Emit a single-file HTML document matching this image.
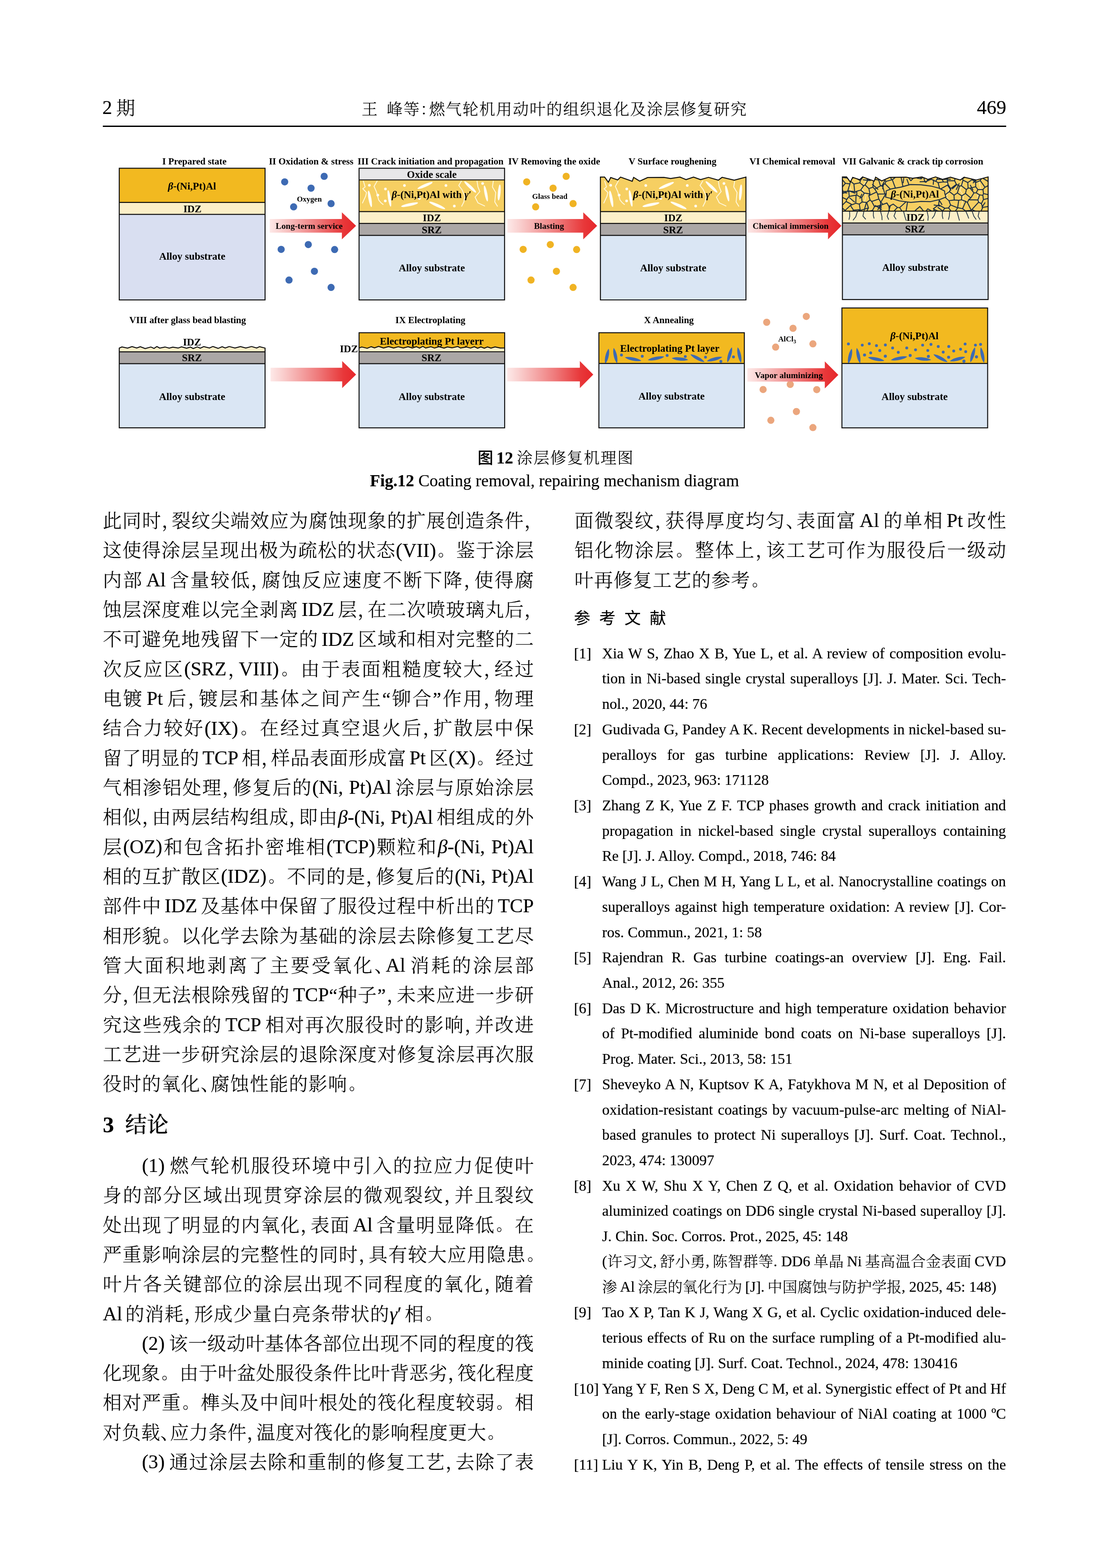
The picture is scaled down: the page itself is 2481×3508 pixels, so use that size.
<!DOCTYPE html>
<html lang="zh-CN"><head><meta charset="utf-8"><title>涂层修复机理图</title>
<style>
html,body{margin:0;padding:0;background:#fff}
#page{will-change:transform;position:relative;width:2481px;height:3508px;overflow:hidden;background:#fff;color:#000;
 font-family:"Liberation Serif","Noto Serif CJK SC",serif;font-weight:300;-webkit-text-stroke:.2px #000}
b{font-weight:700}
#page div{position:absolute;white-space:nowrap;margin:0;padding:0}
.b{font-size:42.3px;line-height:60px;height:60px}
.b .e{font-size:43.75px;line-height:0;position:relative;top:-.8px}
.g{display:inline-block;width:.16em}
.g2{display:inline-block;width:.2em}
.g3{display:inline-block;width:.2em}
.rc{font-size:32.3px}
.rc .e{font-size:33.33px;line-height:0;position:relative;top:-1px}
.r{font-size:33.33px;line-height:46px;height:46px}
.j{text-align:justify;text-align-last:justify}
.n{text-align:left}
.h{font-feature-settings:"halt" 1}
.p{font-size:.82em;margin-right:.22em;position:relative;top:-.06em;left:.09em}
.pe{font-size:.82em;position:relative;top:-.06em;left:.1em}
.hd{font-size:43.75px;line-height:60px;height:60px}
.ht{font-size:37.5px;line-height:60px;height:60px;text-align:center}
.cap{font-size:37.5px;line-height:50px;height:50px;text-align:center;left:0;width:2481px}
.hei{font-family:"Liberation Sans","Noto Sans CJK SC",sans-serif;font-weight:500;font-size:35px}
.c9{font-size:35.6px;letter-spacing:1.9px}
.sec{font-size:50px;line-height:60px;height:60px}
.b.n{letter-spacing:1.45px}
.b.n .e{letter-spacing:0}
.refh{font-weight:400;font-family:"Liberation Sans","Noto Sans CJK SC",sans-serif;font-size:36.6px;line-height:50px;height:50px;letter-spacing:19.9px}
#rule{left:230px;top:280.7px;width:2021px;height:3px;background:#000}
</style></head><body><div id="page">
<div class="hd" style="left:229px;top:210.23px">2<span style="margin-left:9px;font-size:42.3px;position:relative;top:1.6px">期</span></div>
<div class="ht" style="left:0;width:2481px;top:215.14px"><span class="c9">王<span style="display:inline-block;width:18.75px"></span>峰等<span class="h">：</span>燃气轮机用动叶的组织退化及涂层修复研究</span></div>
<div class="hd" style="left:0;width:2251px;top:210.23px;text-align:right">469</div>
<div id="rule"></div>
<svg id="fig" width="2481" height="800" viewBox="0 300 2481 800" style="position:absolute;left:0;top:300px" font-family="'Liberation Serif',serif" font-weight="bold" fill="#000">
<defs><linearGradient id="ga" x1="0" y1="0" x2="1" y2="0"><stop offset="0" stop-color="#FDE9E8"/><stop offset="0.12" stop-color="#FAD3D2"/><stop offset="0.55" stop-color="#EF7B7C"/><stop offset="0.85" stop-color="#E8383A"/><stop offset="1" stop-color="#E6262A"/></linearGradient></defs>
<rect x="266.8" y="376.4" width="326.2" height="76.4" fill="#F2B920"/>
<rect x="266.8" y="452.8" width="326.2" height="26.9" fill="#FCEFC8"/>
<rect x="266.8" y="479.7" width="326.2" height="191.3" fill="#D9DFF1"/>
<path d="M266.8 452.8H593" stroke="#0d0d0d" stroke-width="2.2" fill="none"/>
<path d="M266.8 479.7H593" stroke="#0d0d0d" stroke-width="2.2" fill="none"/>
<rect x="266.8" y="376.4" width="326.2" height="294.6" fill="none" stroke="#0d0d0d" stroke-width="2.2"/>
<text x="435" y="368.3" font-size="21" text-anchor="middle">I Prepared state</text>
<text x="429.5" y="423.8" font-size="22.9" text-anchor="middle"><tspan font-style="italic">β</tspan>-(Ni,Pt)Al</text>
<text x="430.5" y="475" font-size="22.9" text-anchor="middle">IDZ</text>
<text x="430" y="581.4" font-size="22.9" text-anchor="middle">Alloy substrate</text>
<circle cx="636.9" cy="406.9" r="8" fill="#3D6AB3"/><circle cx="725.2" cy="394.5" r="8" fill="#3D6AB3"/><circle cx="695.9" cy="421" r="8" fill="#3D6AB3"/><circle cx="656.9" cy="462.8" r="8" fill="#3D6AB3"/><circle cx="740.7" cy="455.5" r="8" fill="#3D6AB3"/><circle cx="629" cy="557.9" r="8" fill="#3D6AB3"/><circle cx="689.7" cy="547.2" r="8" fill="#3D6AB3"/><circle cx="748.6" cy="558.3" r="8" fill="#3D6AB3"/><circle cx="703.4" cy="606.9" r="8" fill="#3D6AB3"/><circle cx="646.6" cy="626.6" r="8" fill="#3D6AB3"/><circle cx="740.7" cy="643.1" r="8" fill="#3D6AB3"/>
<text x="696" y="368.3" font-size="21" text-anchor="middle">II Oxidation &amp; stress</text>
<text x="692" y="451" font-size="17" text-anchor="middle">Oxygen</text>
<path d="M603.4 490.1H764.8V475.1L796.6 505.3L764.8 535.5V520.5H603.4Z" fill="url(#ga)"/>
<text x="691.7" y="511.7" font-size="19.2" text-anchor="middle">Long-term service</text>
<rect x="803.3" y="376.4" width="325.5" height="26.1" fill="#E7E7E9"/>
<rect x="803.3" y="402.5" width="325.5" height="70.8" fill="#F6CF62"/>
<path d="M812.7 404.5L816.9 418.2L811.7 422.3L820 430.7L817.9 439.1L810.6 454.8" fill="none" stroke="#FFF8DC" stroke-width="2" stroke-linejoin="miter"/><path d="M844.1 404.5L836.8 417.1L842 428.6L847.2 447.5L852.5 453.8L857.7 457.9" fill="none" stroke="#FFF8DC" stroke-width="2" stroke-linejoin="miter"/><path d="M1032.5 404.5L1026.3 415L1033.6 424.4L1039.9 439.1L1037.8 451.7L1032.5 462.1" fill="none" stroke="#FFF8DC" stroke-width="2" stroke-linejoin="miter"/><path d="M1067.1 404.5L1069.2 418.2L1073.4 428.6L1062.9 441.2L1069.2 453.8L1084.9 461.1" fill="none" stroke="#FFF8DC" stroke-width="2" stroke-linejoin="miter"/><path d="M1103.7 404.5L1101.6 418.2L1109 430.7L1106.9 451.7L1113.2 462.1" fill="none" stroke="#FFF8DC" stroke-width="2" stroke-linejoin="miter"/><ellipse cx="827.6" cy="444.9" rx="18.6" ry="3.3" transform="rotate(79.6 827.6 444.9)" fill="#FFFDF4"/><ellipse cx="871.1" cy="443.8" rx="18.6" ry="3.1" transform="rotate(80.9 871.1 443.8)" fill="#FFFDF4"/><ellipse cx="950.9" cy="415" rx="18.3" ry="3.3" transform="rotate(-23.6 950.9 415)" fill="#FFFDF4"/><ellipse cx="916.3" cy="457.9" rx="19.3" ry="3.3" transform="rotate(-12.5 916.3 457.9)" fill="#FFFDF4"/><ellipse cx="978.1" cy="459.5" rx="19.5" ry="3.3" transform="rotate(23.8 978.1 459.5)" fill="#FFFDF4"/><ellipse cx="1051.9" cy="418.2" rx="18.1" ry="3.3" transform="rotate(43.8 1051.9 418.2)" fill="#FFFDF4"/><ellipse cx="1087" cy="432.8" rx="18.1" ry="3.1" transform="rotate(78.7 1087 432.8)" fill="#FFFDF4"/><ellipse cx="1116.8" cy="430.7" rx="17.9" ry="3.1" transform="rotate(95 1116.8 430.7)" fill="#FFFDF4"/><circle cx="826.3" cy="414.4" r="3" fill="#FFFDF4"/><circle cx="862.3" cy="422.8" r="3" fill="#FFFDF4"/><circle cx="861.9" cy="449.6" r="3" fill="#FFFDF4"/><circle cx="904.8" cy="415" r="3" fill="#FFFDF4"/><circle cx="997.6" cy="415" r="3" fill="#FFFDF4"/><circle cx="1016.4" cy="461.1" r="3" fill="#FFFDF4"/><circle cx="1079.7" cy="410.4" r="3" fill="#FFFDF4"/><circle cx="845.2" cy="436.6" r="3" fill="#FFFDF4"/><circle cx="938.3" cy="443.7" r="3" fill="#FFFDF4"/>
<rect x="803.3" y="473.3" width="325.5" height="26.5" fill="#FCEFC8"/>
<rect x="803.3" y="499.8" width="325.5" height="26.8" fill="#ABA7A6"/>
<rect x="803.3" y="526.6" width="325.5" height="144.4" fill="#DAE6F4"/>
<path d="M803.3 402.5H1128.8" stroke="#0d0d0d" stroke-width="2.2" fill="none"/>
<path d="M803.3 473.3H1128.8" stroke="#0d0d0d" stroke-width="2.2" fill="none"/>
<path d="M803.3 499.8H1128.8" stroke="#0d0d0d" stroke-width="2.2" fill="none"/>
<path d="M803.3 526.6H1128.8" stroke="#0d0d0d" stroke-width="2.2" fill="none"/>
<rect x="803.3" y="376.4" width="325.5" height="294.6" fill="none" stroke="#0d0d0d" stroke-width="2.2"/>
<text x="963.3" y="368.3" font-size="21" text-anchor="middle">III Crack initiation and propagation</text>
<text x="966" y="398" font-size="22.9" text-anchor="middle">Oxide scale</text>
<text x="965.5" y="443.4" font-size="22.9" text-anchor="middle"><tspan font-style="italic">β</tspan>-(Ni,Pt)Al with <tspan font-style="italic">γ</tspan>′</text>
<text x="966.2" y="495.2" font-size="22.9" text-anchor="middle">IDZ</text>
<text x="965.7" y="521.7" font-size="22.9" text-anchor="middle">SRZ</text>
<text x="966" y="607.2" font-size="22.9" text-anchor="middle">Alloy substrate</text>
<circle cx="1178.3" cy="406.9" r="8" fill="#F0B323"/><circle cx="1266.6" cy="394.5" r="8" fill="#F0B323"/><circle cx="1237.3" cy="421" r="8" fill="#F0B323"/><circle cx="1198.3" cy="462.8" r="8" fill="#F0B323"/><circle cx="1282.1" cy="455.5" r="8" fill="#F0B323"/><circle cx="1170.4" cy="557.9" r="8" fill="#F0B323"/><circle cx="1231.1" cy="547.2" r="8" fill="#F0B323"/><circle cx="1290" cy="558.3" r="8" fill="#F0B323"/><circle cx="1244.8" cy="606.9" r="8" fill="#F0B323"/><circle cx="1188" cy="626.6" r="8" fill="#F0B323"/><circle cx="1282.1" cy="643.1" r="8" fill="#F0B323"/>
<text x="1239.7" y="368.3" font-size="21" text-anchor="middle">IV Removing the oxide</text>
<text x="1230" y="444.5" font-size="17" text-anchor="middle">Glass bead</text>
<path d="M1135.2 490.1H1304.8V475.1L1335.9 505.3L1304.8 535.5V520.5H1135.2Z" fill="url(#ga)"/>
<text x="1228.3" y="512.4" font-size="19.2" text-anchor="middle">Blasting</text>
<path d="M1343.2 396.2L1352.6 396.2L1361 407.7L1366.2 397.2L1381.9 402.5L1388.2 396.2L1414.4 405.6L1417.5 396.8L1431.1 405.2L1448.9 397.2L1485.6 396.8L1500.2 399.3L1521.1 396.2L1534.8 401.8L1551.5 396.2L1567.2 401.8L1585 396.8L1607 403.1L1615.4 396.8L1642.6 403.1L1668.8 396.2L1668.8 473.3L1343.2 473.3Z" fill="#F6CF62" stroke="none" stroke-width="0" stroke-linejoin="miter"/>
<path d="M1352.6 404.5L1356.8 418.2L1351.6 422.3L1359.9 430.7L1357.8 439.1L1350.5 454.8" fill="none" stroke="#FFF8DC" stroke-width="2" stroke-linejoin="miter"/><path d="M1384 403.5L1376.7 417.1L1381.9 428.6L1387.1 447.5L1392.4 453.8L1397.6 457.9" fill="none" stroke="#FFF8DC" stroke-width="2" stroke-linejoin="miter"/><path d="M1572.4 404.5L1566.2 415L1573.5 424.4L1579.8 439.1L1577.7 451.7L1572.4 462.1" fill="none" stroke="#FFF8DC" stroke-width="2" stroke-linejoin="miter"/><path d="M1607 405.1L1609.1 418.2L1613.3 428.6L1602.8 441.2L1609.1 453.8L1624.8 461.1" fill="none" stroke="#FFF8DC" stroke-width="2" stroke-linejoin="miter"/><path d="M1643.6 404.8L1641.5 418.2L1648.9 430.7L1646.8 451.7L1653.1 462.1" fill="none" stroke="#FFF8DC" stroke-width="2" stroke-linejoin="miter"/><ellipse cx="1367.5" cy="444.9" rx="18.6" ry="3.3" transform="rotate(79.6 1367.5 444.9)" fill="#FFFDF4"/><ellipse cx="1411" cy="443.8" rx="18.6" ry="3.1" transform="rotate(80.9 1411 443.8)" fill="#FFFDF4"/><ellipse cx="1490.8" cy="415" rx="18.3" ry="3.3" transform="rotate(-23.6 1490.8 415)" fill="#FFFDF4"/><ellipse cx="1456.2" cy="457.9" rx="19.3" ry="3.3" transform="rotate(-12.5 1456.2 457.9)" fill="#FFFDF4"/><ellipse cx="1518" cy="459.5" rx="19.5" ry="3.3" transform="rotate(23.8 1518 459.5)" fill="#FFFDF4"/><ellipse cx="1591.8" cy="418.2" rx="18.1" ry="3.3" transform="rotate(43.8 1591.8 418.2)" fill="#FFFDF4"/><ellipse cx="1626.9" cy="432.8" rx="18.1" ry="3.1" transform="rotate(78.7 1626.9 432.8)" fill="#FFFDF4"/><ellipse cx="1656.7" cy="430.7" rx="17.9" ry="3.1" transform="rotate(95 1656.7 430.7)" fill="#FFFDF4"/><circle cx="1366.2" cy="414.4" r="3" fill="#FFFDF4"/><circle cx="1402.2" cy="422.8" r="3" fill="#FFFDF4"/><circle cx="1401.8" cy="449.6" r="3" fill="#FFFDF4"/><circle cx="1444.7" cy="415" r="3" fill="#FFFDF4"/><circle cx="1537.5" cy="415" r="3" fill="#FFFDF4"/><circle cx="1556.3" cy="461.1" r="3" fill="#FFFDF4"/><circle cx="1619.6" cy="410.4" r="3" fill="#FFFDF4"/><circle cx="1385.1" cy="436.6" r="3" fill="#FFFDF4"/><circle cx="1478.2" cy="443.7" r="3" fill="#FFFDF4"/>
<rect x="1343.2" y="473.3" width="325.6" height="26.5" fill="#FCEFC8"/>
<rect x="1343.2" y="499.8" width="325.6" height="26.8" fill="#ABA7A6"/>
<rect x="1343.2" y="526.6" width="325.6" height="144.4" fill="#DAE6F4"/>
<path d="M1343.2 473.3H1668.8" stroke="#0d0d0d" stroke-width="2.2" fill="none"/>
<path d="M1343.2 499.8H1668.8" stroke="#0d0d0d" stroke-width="2.2" fill="none"/>
<path d="M1343.2 526.6H1668.8" stroke="#0d0d0d" stroke-width="2.2" fill="none"/>
<path d="M1343.2 671L1343.2 396.2L1352.6 396.2L1361 407.7L1366.2 397.2L1381.9 402.5L1388.2 396.2L1414.4 405.6L1417.5 396.8L1431.1 405.2L1448.9 397.2L1485.6 396.8L1500.2 399.3L1521.1 396.2L1534.8 401.8L1551.5 396.2L1567.2 401.8L1585 396.8L1607 403.1L1615.4 396.8L1642.6 403.1L1668.8 396.2L1668.8 671Z" fill="none" stroke="#0d0d0d" stroke-width="2.2" stroke-linejoin="miter"/>
<text x="1504.5" y="368.3" font-size="21" text-anchor="middle">V Surface roughening</text>
<text x="1505.5" y="443.4" font-size="22.9" text-anchor="middle"><tspan font-style="italic">β</tspan>-(Ni,Pt)Al with <tspan font-style="italic">γ</tspan>′</text>
<text x="1506.2" y="495.2" font-size="22.9" text-anchor="middle">IDZ</text>
<text x="1505.7" y="521.7" font-size="22.9" text-anchor="middle">SRZ</text>
<text x="1506" y="607.2" font-size="22.9" text-anchor="middle">Alloy substrate</text>
<text x="1772.6" y="368.3" font-size="21" text-anchor="middle">VI Chemical removal</text>
<path d="M1671.7 490.1H1852.4V475.1L1882.4 505.3L1852.4 535.5V520.5H1671.7Z" fill="url(#ga)"/>
<text x="1768.8" y="512.4" font-size="19.2" text-anchor="middle">Chemical immersion</text>
<path d="M1884.6 395.8L1894 395.8L1902.4 407.3L1907.6 396.8L1923.3 402.1L1929.6 395.8L1955.8 405.2L1958.9 396.4L1972.5 404.8L1990.3 396.8L2027 396.4L2041.6 398.9L2062.5 395.8L2076.2 401.4L2092.9 395.8L2108.6 401.4L2126.4 396.4L2148.4 402.7L2156.8 396.4L2184 402.7L2210.6 395.8L2210.6 472.3L1884.6 472.3Z" fill="#F6CF62" stroke="none" stroke-width="0" stroke-linejoin="miter"/>
<clipPath id="cp7"><path d="M1884.6 395.8L1894 395.8L1902.4 407.3L1907.6 396.8L1923.3 402.1L1929.6 395.8L1955.8 405.2L1958.9 396.4L1972.5 404.8L1990.3 396.8L2027 396.4L2041.6 398.9L2062.5 395.8L2076.2 401.4L2092.9 395.8L2108.6 401.4L2126.4 396.4L2148.4 402.7L2156.8 396.4L2184 402.7L2210.6 395.8L2210.6 472.3L1884.6 472.3Z"/></clipPath><g clip-path="url(#cp7)"><path d="M1898.6 412l6 14l-7 12l8 16M1936.6 405l-8 18l9 14l-5 20M2116.6 408l7 15l-6 16l9 18M2154.6 410l-7 16l8 12l-4 22M2189.6 404l5 20l-8 14l7 20" fill="none" stroke="#FFF6D8" stroke-width="1.4" opacity="0.8"/><path d="M2221.8 398.3L2214.1 408M2214.1 408L2211.9 412.9M2218.6 434L2212 414.7M2212 414.7L2211.9 412.9M2260.7 463.1L2214.5 460.4M2260.7 463.1L2215.6 447.3M2215.6 447.3L2212.3 461.6M2214.5 460.4L2212.3 461.6M2217.5 477.2L2214.5 460.4M2218.6 434L2216.4 437M2215.6 447.3L2213.1 443.3M2216.4 437L2213.1 443.3M1954.4 512.4L1941.3 479.2M1941.3 479.2L1922 483.8M1924.3 492.4L1922 483.8M1890 712.3L1880.5 480.3M1880.5 480.3L1862.6 473.3M1946 317.3L1951.1 392.1M1946 317.3L1933.8 389.8M1933.8 389.8L1951.1 392.1M1952.8 418.7L1943.8 422M1952.8 418.7L1954.6 401.8M1943.8 422L1935.3 413.7M1935.3 413.7L1941.7 402.9M1941.7 402.9L1954.6 401.8M1924.7 404.2L1933.8 391.7M1924.7 404.2L1923.6 409M1932 415.7L1923.6 409M1932 415.7L1935.3 413.7M1941.7 402.9L1933.8 391.7M1954.4 512.4L1959.2 479.9M1938.5 473.9L1941.3 479.2M1938.5 473.9L1952 470.5M1952 470.5L1959.2 479.9M1933.8 389.8L1932.5 390.6M1932.5 390.6L1933.8 391.7M1954.6 401.8L1957.9 401.3M1951.1 392.1L1951.7 392.3M1957.9 401.3L1951.7 392.3M2079.7 500.1L2086.3 473.1M2086.3 473.1L2091.3 469.2M2091.3 469.2L2100.1 472.7M2100.1 472.7L2097.2 610.7M2062.8 363.5L2053.2 378.9M2062.8 363.5L2071.1 387.7M2060.7 400.1L2053.2 378.9M2060.7 400.1L2065.9 395.5M2065.9 395.5L2071.1 387.7M2013.7 260.2L2001.2 385.5M2007.9 392.6L2001.2 385.5M2007.9 392.6L2010 391.7M2021.6 348.2L2010 391.7M2057.9 462.2L2069.1 475.9M2069.1 475.9L2075.4 467.3M2088.1 467.2L2091.3 469.2M2086.3 473.1L2075.4 467.3M2079.7 500.1L2068.6 475.3M2068.6 475.3L2069.1 475.9M2200.1 446.5L2213.1 443.3M2200.1 446.5L2198.8 437M2216.4 437L2200.2 433M2200.2 433L2198.8 437M1909.4 470.2L1904.7 476M1909.4 470.2L1902.5 459.6M1905.1 457.3L1890.7 470.7M1905.1 457.3L1902.5 459.6M1904.7 476L1898.4 478M1898.4 478L1889.3 477.1M1889.3 477.1L1890.7 470.7M1924.3 492.4L1904.7 476M1922 483.8L1921.8 469.1M1921.8 469.1L1909.4 470.2M1890 712.3L1898.4 478M1880.5 480.3L1889.3 477.1M1881.2 463.3L1862.6 473.3M1881.2 463.3L1890.7 470.7M1881.2 463.3L1882.2 461.1M1905.1 457.3L1892.9 450.8M1882.2 461.1L1892.9 450.8M1924.6 470.7L1922.4 456.7M1924.6 470.7L1942.8 465.2M1942.8 465.2L1939 453.1M1939 453.1L1928.7 451.8M1922.4 456.7L1928.7 451.8M1914.5 454.7L1922.4 456.7M1914.5 454.7L1902.5 459.6M1921.8 469.1L1924.6 470.7M1938.5 473.9L1942.8 465.2M1924.7 404.2L1913.2 397.1M1932.5 390.6L1917.9 382.4M1913.2 397.1L1917.9 382.4M1849.3 -53.7L1917.9 382.4M1946.4 433.9L1933.6 431.9M1946.4 433.9L1943.8 422M1932 415.7L1925.5 425.3M1925.5 425.3L1933.6 431.9M1946.4 433.9L1943.7 437.8M1946.4 447.3L1943.7 437.8M1946.4 447.3L1939 453.1M1928.7 451.8L1927.6 442.3M1933.6 431.9L1927.6 442.3M1879.6 396.5L1891.3 410M1879.6 396.5L1858.5 416M1858.5 416L1882.8 420.6M1891.3 410L1882.8 420.6M2027.1 471.9L2031 447.8M2027.1 471.9L2020.6 476.5M2031 447.8L2012.7 464.5M2020.6 476.5L2012.7 464.5M1988.7 392.1L1995.4 402.2M1988.7 392.1L2001.2 385.5M2007.9 392.6L1996.3 402.4M1996.3 402.4L1995.4 402.2M1965.1 596.5L1976.4 480.8M1959.2 479.9L1969.5 471.4M1976.4 480.8L1969.5 471.4M1952 470.5L1956.4 462.3M1969.5 471.4L1968.5 459.8M1968.5 459.8L1956.4 462.3M1946.4 447.3L1950.1 450.8M1956.4 462.3L1950.1 450.8M1952.8 418.7L1957 423.1M1943.7 437.8L1961.2 429.5M1961.2 429.5L1957 423.1M1965.8 402.9L1957.9 401.3M1965.8 402.9L1969.8 415.9M1957 423.1L1969.8 415.9M1972.8 395.2L1965.8 402.9M1972.8 395.2L1982.2 405.7M1982.2 405.7L1979.8 410.9M1979.8 410.9L1974 414.9M1969.8 415.9L1974 414.9M1986.6 388L1978.4 391.6M1986.6 388L1977.1 101.4M1978.4 391.6L1971.3 386.4M1977.1 101.4L1971.3 386.4M1988.7 392.1L1986.6 388M1972.8 395.2L1978.4 391.6M1995.4 402.2L1982.2 405.7M1951.7 392.3L1971.3 386.4M2088.1 467.2L2099.9 458.2M2100.1 472.7L2106.4 474.9M2106.4 474.9L2113.8 466M2099.9 458.2L2113.8 466M2099.9 458.2L2102.1 438.8M2053.2 378.9L2047.5 391.7M2021.6 348.2L2030.7 385.8M2047.5 391.7L2030.7 385.8M2010 391.7L2015.6 395M2015.6 395L2026.4 389.5M2030.7 385.8L2026.4 389.5M2069.3 407.2L2083.3 401M2069.3 407.2L2065.9 395.5M2071.1 387.7L2083.6 392.1M2083.3 401L2083.6 392.1M2083.3 401L2090.6 404.6M2103.9 343.4L2087 382.6M2087 382.6L2083.6 392.1M2029.7 475.5L2043.7 475.8M2029.7 475.5L2040.1 513.4M2043.7 475.8L2050.6 482.5M2040.1 513.4L2050.6 482.5M2027.1 471.9L2029.7 475.5M2049.5 469.2L2043.7 475.8M2034.2 671.2L2015.7 478.7M2020.6 476.5L2015.7 478.7M2068.6 475.3L2050.6 482.5M2049.5 469.2L2057.9 462.2M2221.8 398.3L2202.4 388.2M2200.8 343.5L2202.4 388.2M2214.1 408L2196.9 397.7M2202.4 388.2L2200.6 399.7M2196.9 397.7L2200.6 399.7M2200.8 343.5L2183.3 391.4M2200.6 399.7L2183.3 391.4M2154.9 101.6L2171.9 393.8M2171.9 393.8L2177.7 397.3M2177.7 397.3L2183.3 391.4M2145 397.2L2153.3 400.1M2145 397.2L2153 378.1M2153.3 400.1L2162.8 393.5M2153 378.1L2162.8 393.5M2134.6 390.4L2148 276.7M2134.6 390.4L2137.1 395.2M2148 276.7L2153 378.1M2137.1 395.2L2145 397.2M2171.9 393.8L2162.8 393.5M2134.6 390.4L2120.5 391.1M2103.9 343.4L2111.9 383.5M2120.5 391.1L2111.9 383.5M2137.1 395.2L2135.7 404.4M2135.7 404.4L2119.1 404.3M2120.5 391.1L2119.1 404.3M2150.9 415.7L2146.5 416.1M2150.9 415.7L2161.9 424.2M2151.4 438.2L2159.9 432.9M2151.4 438.2L2141.8 431.6M2161.9 424.2L2159.9 432.9M2146.5 416.1L2141.8 431.6M2154.4 402.9L2153.3 400.1M2154.4 402.9L2150.9 415.7M2135.7 404.4L2139.5 412.3M2146.5 416.1L2139.5 412.3M2121.1 413.2L2120 407.7M2121.1 413.2L2126.8 422.2M2119.1 404.3L2120 407.7M2139.5 412.3L2126.8 422.2M1882.2 461.1L1878.1 451.8M1878.1 451.8L1626.8 431.1M1880.3 398.1L1879.6 396.5M1903.1 399.3L1904.4 399M1903.1 399.3L1885 396.9M1904.4 399L1894.3 365.7M1885 396.9L1894.3 365.7M1913.2 397.1L1904.4 399M1880.3 398.1L1885 396.9M1882.8 420.6L1886.2 428.2M1847 419.5L1881.7 439.9M1886.2 428.2L1881.7 439.9M1892.9 450.8L1894.2 446.3M1878.1 451.8L1883.5 441.2M1894.2 446.3L1883.5 441.2M1881.7 439.9L1883.5 441.2M1998.2 456.7L1988.6 461.8M1984.2 454.1L1988.6 461.8M1989.8 471.9L1988.6 461.8M1989.8 471.9L1976.4 480.8M1975.6 457.3L1968.5 459.8M1975.6 457.3L1984.2 454.1M1996.3 402.4L2008 433.7M1979.8 410.9L1998.1 429.6M2015.6 395L2023.4 434.8M2000.4 503.1L2003.3 480.7M2000.4 503.1L1989.6 476M2003.3 480.7L1999.3 473.1M1989.6 476L1999.3 473.1M2015.7 478.7L2003.3 480.7M1989.8 471.9L1989.6 476M2012.7 464.5L2007.7 464M2007.7 464L1999.3 473.1M2007.7 464L1998.2 456.7M1970.5 452.5L1966.1 445.3M1970.5 452.5L1982.7 431.9M1966.1 445.3L1963.3 434.1M1963.3 434.1L1979.5 433.8M1975.6 457.3L1970.5 452.5M1950.1 450.8L1966.1 445.3M1961.2 429.5L1963.3 434.1M1974 414.9L1979.5 433.8M2174.6 468.6L2189.4 452.3M2174.6 468.6L2178.2 470.7M2178.2 470.7L2196.2 477.6M2189.4 452.3L2195.4 455.8M2194.2 473.3L2196.2 477.6M2194.2 473.3L2198.7 464M2195.4 455.8L2198.7 464M2200.1 446.5L2195.4 455.8M2191.6 436L2198.8 437M2191.6 436L2187.8 447.4M2187.8 447.4L2189.4 452.3M2217.5 477.2L2209.6 481M2209.6 481L2194.2 473.3M2212.3 461.6L2198.7 464M2106.4 474.9L2120.6 489.9M2113.8 466L2122.1 465.1M2122.1 465.1L2128.6 473.5M2128.6 473.5L2120.6 489.9M2120.6 489.9L2104.2 640.5M2178.2 470.7L2161.5 581.7M2196.2 477.6L2165.2 751M2209.6 481L2147.8 1651.9M2126.5 458.5L2122.1 465.1M2126.5 458.5L2142.6 464.9M2128.6 473.5L2134.6 475.8M2142.6 464.9L2134.6 475.8M2134.6 475.8L2154.9 501.4M2110.9 438.3L2123 449M2110.9 438.3L2123.9 428.6M2134.3 436.7L2123.9 428.6M2134.3 436.7L2134.8 447.3M2134.8 447.3L2123 449M2126.5 458.5L2123 449M2102.6 423.8L2121.1 413.2M2126.8 422.2L2123.9 428.6M2141.8 431.6L2134.3 436.7M2151.4 438.2L2151.1 447M2151.1 447L2144.8 448.2M2144.8 448.2L2134.8 447.3M2144.8 448.2L2142.4 464.5M2142.6 464.9L2142.4 464.5M2051.8 398.5L2047.4 394.5M2047.4 394.5L2037.8 404.3M2060.7 400.1L2051.8 398.5M2047.5 391.7L2047.4 394.5M2026.4 389.5L2037.8 404.3M2098.6 408.6L2110.8 407M2098.6 408.6L2093.7 405.6M2093.7 405.6L2099.2 394.9M2099.2 394.9L2105.2 397.7M2105.2 397.7L2110.8 407M2102.6 423.8L2098.6 408.6M2120 407.7L2110.8 407M2090.6 404.6L2093.7 405.6M2087 382.6L2099.2 394.9M2111.9 383.5L2105.2 397.7M2154.4 402.9L2165.1 408.4M2177.7 397.3L2174.9 401.8M2165.1 408.4L2174.9 401.8M2161.9 424.2L2165.8 420.6M2165.1 408.4L2165.8 420.6M1886.2 428.2L1899.1 428.4M1894.2 446.3L1899.7 439.3M1899.1 428.4L1899.7 439.3M1914.5 454.7L1915.1 436.7M1899.7 439.3L1915.1 436.7M1927.6 442.3L1916.8 436.6M1915.1 436.7L1916.8 436.6M2160 471.6L2153.4 467M2160 471.6L2173 470.9M2153.4 467L2160.6 450.6M2173 470.9L2164.3 453.2M2164.3 453.2L2160.6 450.6M2142.4 464.5L2153.4 467M2154.9 501.4L2160 471.6M2174.6 468.6L2173 470.9M2151.1 447L2160.6 450.6M2167 446.9L2187.8 447.4M2167 446.9L2164.3 453.2M2167 446.9L2171.8 443M2171.8 443L2159.9 432.9M2196.9 397.7L2192.9 403.9M2174.9 401.8L2182.5 408.5M2182.5 408.5L2192.9 403.9M2212 414.7L2203.5 418.9M2192.9 403.9L2203.5 418.9M2200.2 433L2199.1 424M2203.5 418.9L2199.1 424M2170.3 421L2182.9 417.8M2170.3 421L2178.9 431.5M2183.8 431.4L2187.6 424.2M2183.8 431.4L2178.9 431.5M2187.6 424.2L2182.9 417.8M2165.8 420.6L2170.3 421M2182.5 408.5L2182.9 417.8M2171.8 443L2178.9 431.5M2191.6 436L2183.8 431.4M2199.1 424L2187.6 424.2M1896.7 426.9L1916.8 429.4M1896.7 426.9L1901.3 411.7M1910.3 411.6L1912.1 429.3M1910.3 411.6L1902.7 405.3M1912.1 429.3L1916.8 429.4M1902.7 405.3L1901.3 411.7M1899.1 428.4L1896.7 426.9M1916.8 436.6L1916.8 429.4M1891.3 410L1901.3 411.7M1923.6 409L1910.3 411.6M1925.5 425.3L1912.1 429.3M1903.1 399.3L1902.7 405.3M2126.3 400.8l-16.6 0.7M2080 397l-8.7 11M1885.1 431.1l9.5 0.5M2101.8 448.9l5.4 8.7M1976.7 411.1l-2 11M2173.5 397.4l10.5 9.3M2029 401.4l3.9 10.5M2145.6 410.9l-6.1 13M2021.7 399.2l-1.1 9.8M1958 459.8l14.2 8.7M1931.4 402.4l15.6 1.5M2170.9 414.4l5.5 10.4M1979.4 403.9l-6.6 12.6M1895.9 427.4l-12.2 6.4M2098.4 464.1l9.8 7.2M1937.8 454.6l-4.3 15.4M2140.3 413.1l-9.6 9.3M2088.6 402.7l-0.8 9.7M2203.4 453.6l-6.5 9.8M1900.5 442.5l11.2 9.5M2089.8 458.6l12.6 2.4M1969.5 451.2l1.9 13.3M1928 434.4l-4.1 9.1M2070.4 406.1l-12.1 0.6M2188.7 397.6l-11.5 11.4M1969.7 457.6l-5.7 11.7M2120.4 415.1l6.8 10.2M1899.6 427.1l13.4 5.1M1951.9 412.8l12.1 10.6M1991.6 461.2l-3.2 9.9M2112.4 401l-14.9 0.2" fill="none" stroke="#1B2F45" stroke-width="2.2" stroke-linecap="round"/><path d="M2113.7 433.5L2116.3 440.7L2102.9 446.3L2081.1 451.2L2060.5 450.6L2037.6 452.9L2012.5 449.5L1995.5 444.5L1981.1 441L1982.6 433.5L1982.4 427L1993.6 422.7L2015.7 418.6L2036.2 412.9L2059.9 413.4L2082.7 416.3L2100.1 420.7L2113.1 427.2Z" fill="#F6CF62" stroke="#1B2F45" stroke-width="2.2" stroke-linejoin="round"/></g>
<rect x="1884.6" y="472.3" width="326" height="26.6" fill="#FCEFC8"/>
<path d="M1900.6 473.3l0.4 10.6l-1.6 7M1918.1 473.3l-3.5 11.4l-5.8 7.6M1932.6 473.3l-2.1 10.1l5.9 6.7M1953.9 473.3l-0.2 8.9l1.7 6M1970.1 473.3l2.9 11.1l0.3 7.4M1988.3 473.3l-3.5 10.5l3.1 7M2003.8 473.3l-3.8 10.1l4.4 6.7M2021.5 473.3l3 11.7l2.6 7.8M2074.2 473.3l2.4 11.8l-0.7 7.8M2093.1 473.3l-3.2 9.2l-4.4 6.1M2108.5 473.3l-0.5 9.5l1.5 6.3M2124.6 473.3l-0.9 10.5l-1.8 7M2140.9 473.3l3.2 11.7l2.2 7.8M2161 473.3l3.9 9l2.1 6M2175 473.3l3.7 10.4l4.9 7M2190.5 473.3l-2.3 10.5l4 7" fill="none" stroke="#1B2F45" stroke-width="1.7" stroke-linecap="round" stroke-linejoin="round"/>
<rect x="1884.6" y="498.9" width="326" height="26.5" fill="#ABA7A6"/>
<rect x="1884.6" y="525.4" width="326" height="144.8" fill="#DAE6F4"/>
<path d="M1884.6 472.3H2210.6" stroke="#0d0d0d" stroke-width="2.2" fill="none"/>
<path d="M1884.6 498.9H2210.6" stroke="#0d0d0d" stroke-width="2.2" fill="none"/>
<path d="M1884.6 525.4H2210.6" stroke="#0d0d0d" stroke-width="2.2" fill="none"/>
<path d="M1884.6 670.2L1884.6 395.8L1894 395.8L1902.4 407.3L1907.6 396.8L1923.3 402.1L1929.6 395.8L1955.8 405.2L1958.9 396.4L1972.5 404.8L1990.3 396.8L2027 396.4L2041.6 398.9L2062.5 395.8L2076.2 401.4L2092.9 395.8L2108.6 401.4L2126.4 396.4L2148.4 402.7L2156.8 396.4L2184 402.7L2210.6 395.8L2210.6 670.2Z" fill="none" stroke="#0d0d0d" stroke-width="2.2" stroke-linejoin="miter"/>
<text x="2042" y="368.3" font-size="21" text-anchor="middle">VII Galvanic &amp; crack tip corrosion</text>
<text x="2046.7" y="442.4" font-size="22.9" text-anchor="middle"><tspan font-style="italic">β</tspan>-(Ni,Pt)Al</text>
<text x="2048" y="494" font-size="22.9" text-anchor="middle">IDZ</text>
<text x="2047" y="520.3" font-size="22.9" text-anchor="middle">SRZ</text>
<text x="2047.6" y="606.2" font-size="22.9" text-anchor="middle">Alloy substrate</text>
<path d="M266.8 778.8L272.8 776.2L285.3 778.8L295.4 775.5L305.8 778.5L313.9 775.7L324.8 779.8L337.5 776.3L344.6 779.4L351 775.3L357.3 778.8L369.1 776.3L378.6 778.8L386.6 776.6L398.5 778.7L406.1 775.9L417.4 779.1L426.2 776.5L432.2 779.7L441.4 776.1L448 779L455.8 775.4L468.6 778.5L476.3 775.1L487.9 779.4L497 775.7L503.9 778.5L512.9 775.3L525.7 778.6L537.9 775.4L549.9 778.5L562.8 775.3L574.2 778.6L580.7 775.6L593 778.8L593 787.1L266.8 787.1Z" fill="#FCEFC8" stroke="none" stroke-width="0" stroke-linejoin="miter"/>
<rect x="266.8" y="787.1" width="326.2" height="26.5" fill="#ABA7A6"/>
<rect x="266.8" y="813.6" width="326.2" height="143.6" fill="#DAE6F4"/>
<path d="M266.8 787.1H593" stroke="#0d0d0d" stroke-width="2.2" fill="none"/>
<path d="M266.8 813.6H593" stroke="#0d0d0d" stroke-width="2.2" fill="none"/>
<path d="M266.8 957.2L266.8 778.8L272.8 776.2L285.3 778.8L295.4 775.5L305.8 778.5L313.9 775.7L324.8 779.8L337.5 776.3L344.6 779.4L351 775.3L357.3 778.8L369.1 776.3L378.6 778.8L386.6 776.6L398.5 778.7L406.1 775.9L417.4 779.1L426.2 776.5L432.2 779.7L441.4 776.1L448 779L455.8 775.4L468.6 778.5L476.3 775.1L487.9 779.4L497 775.7L503.9 778.5L512.9 775.3L525.7 778.6L537.9 775.4L549.9 778.5L562.8 775.3L574.2 778.6L580.7 775.6L593 778.8L593 957.2Z" fill="none" stroke="#0d0d0d" stroke-width="2.2" stroke-linejoin="miter"/>
<text x="419.8" y="723.4" font-size="21" text-anchor="middle">VIII after glass bead blasting</text>
<text x="429.5" y="773" font-size="22.9" text-anchor="middle">IDZ</text>
<text x="429.3" y="808.3" font-size="22.9" text-anchor="middle">SRZ</text>
<text x="429.8" y="894.8" font-size="22.9" text-anchor="middle">Alloy substrate</text>
<path d="M605.2 822.8H765.5V807.8L796.6 838L765.5 868.2V853.2H605.2Z" fill="url(#ga)"/>
<path d="M803.3 744.4L1129 744.4L1129 778.5L1119.2 778.7L1107.5 776.2L1098.4 778.8L1090.6 776.2L1083.4 779.1L1075.9 776.3L1068.5 779.1L1061.2 775.8L1052.7 778.7L1043 776.3L1030.2 778.6L1024 775.1L1011.2 778.2L1001 776.2L993.4 778.8L981.9 775.6L972 778.7L964 775.8L952.3 778.6L946 774.9L938.6 778.8L931.4 775.6L922.2 778.6L912.9 775.6L902.3 778.6L891 775.8L880.6 778.6L869.2 775.5L858 778.5L847 774.9L837.9 778.3L830.5 775.6L821.5 779.2L809.3 776.3L803.3 778.5Z" fill="#F2B920" stroke="none" stroke-width="0" stroke-linejoin="miter"/>
<path d="M803.3 778.5L809.3 776.3L821.5 779.2L830.5 775.6L837.9 778.3L847 774.9L858 778.5L869.2 775.5L880.6 778.6L891 775.8L902.3 778.6L912.9 775.6L922.2 778.6L931.4 775.6L938.6 778.8L946 774.9L952.3 778.6L964 775.8L972 778.7L981.9 775.6L993.4 778.8L1001 776.2L1011.2 778.2L1024 775.1L1030.2 778.6L1043 776.3L1052.7 778.7L1061.2 775.8L1068.5 779.1L1075.9 776.3L1083.4 779.1L1090.6 776.2L1098.4 778.8L1107.5 776.2L1119.2 778.7L1129 778.5L1129 787L803.3 787Z" fill="#FCEFC8" stroke="none" stroke-width="0" stroke-linejoin="miter"/>
<rect x="803.3" y="787" width="325.7" height="26.6" fill="#ABA7A6"/>
<rect x="803.3" y="813.6" width="325.7" height="143.6" fill="#DAE6F4"/>
<path d="M803.3 778.5L809.3 776.3L821.5 779.2L830.5 775.6L837.9 778.3L847 774.9L858 778.5L869.2 775.5L880.6 778.6L891 775.8L902.3 778.6L912.9 775.6L922.2 778.6L931.4 775.6L938.6 778.8L946 774.9L952.3 778.6L964 775.8L972 778.7L981.9 775.6L993.4 778.8L1001 776.2L1011.2 778.2L1024 775.1L1030.2 778.6L1043 776.3L1052.7 778.7L1061.2 775.8L1068.5 779.1L1075.9 776.3L1083.4 779.1L1090.6 776.2L1098.4 778.8L1107.5 776.2L1119.2 778.7L1129 778.5" fill="none" stroke="#0d0d0d" stroke-width="2.2" stroke-linejoin="miter"/>
<path d="M803.3 787H1129" stroke="#0d0d0d" stroke-width="2.2" fill="none"/>
<path d="M803.3 813.6H1129" stroke="#0d0d0d" stroke-width="2.2" fill="none"/>
<rect x="803.3" y="744.4" width="325.7" height="212.8" fill="none" stroke="#0d0d0d" stroke-width="2.2"/>
<text x="962.8" y="723.4" font-size="21" text-anchor="middle">IX Electroplating</text>
<text x="965.9" y="770.6" font-size="22.9" text-anchor="middle">Electroplating Pt layerr</text>
<text x="780.5" y="787.6" font-size="22.9" text-anchor="middle">IDZ</text>
<text x="965.2" y="808.3" font-size="22.9" text-anchor="middle">SRZ</text>
<text x="965.9" y="894.8" font-size="22.9" text-anchor="middle">Alloy substrate</text>
<path d="M1134.8 822.8H1297.2V807.8L1327.2 838L1297.2 868.2V853.2H1134.8Z" fill="url(#ga)"/>
<rect x="1339.8" y="744.4" width="325.4" height="68.8" fill="#F2B920"/>
<path d="M1354.1 813.8C1360.5 807.5 1364.8 788.7 1361.8 780.3C1355.4 786.5 1351.1 805.3 1354.1 813.8Z" fill="#3D6AB3"/><path d="M1372.9 778.6C1369.8 787.1 1373.9 806.2 1380.3 812.7C1383.3 804.2 1379.2 785.1 1372.9 778.6Z" fill="#3D6AB3"/><path d="M1398 799.5C1405.1 805.9 1425.7 810.1 1434.7 807.1C1427.6 800.7 1407.1 796.5 1398 799.5Z" fill="#3D6AB3"/><path d="M1449.3 805.4C1458.3 808.5 1478.9 804.4 1486 798C1477 795 1456.5 799.1 1449.3 805.4Z" fill="#3D6AB3"/><path d="M1502.7 801.2C1510.3 806.8 1530.8 808.9 1539.4 805C1531.8 799.4 1511.3 797.2 1502.7 801.2Z" fill="#3D6AB3"/><path d="M1544.6 792.8C1549.2 800.8 1566.8 810.4 1576 810C1571.4 802 1553.8 792.4 1544.6 792.8Z" fill="#3D6AB3"/><path d="M1581.3 807.9C1590.1 810.5 1609.4 805.3 1615.8 798.7C1607 796.1 1587.6 801.2 1581.3 807.9Z" fill="#3D6AB3"/><path d="M1627.3 810.6C1634.1 804.6 1639.8 785.9 1637.4 777.1C1630.6 783.1 1624.9 801.9 1627.3 810.6Z" fill="#3D6AB3"/><path d="M1650.4 777.1C1647.3 785.7 1651.4 805.1 1657.7 811.7C1660.8 803.1 1656.7 783.7 1650.4 777.1Z" fill="#3D6AB3"/><circle cx="1390.3" cy="794.3" r="3.2" fill="#3D6AB3"/><circle cx="1436.8" cy="797" r="3.2" fill="#3D6AB3"/><circle cx="1492.5" cy="795.3" r="3.2" fill="#3D6AB3"/><circle cx="1533.1" cy="797.6" r="3.2" fill="#3D6AB3"/><circle cx="1578.3" cy="799.1" r="3.2" fill="#3D6AB3"/><circle cx="1612.7" cy="808.5" r="3.2" fill="#3D6AB3"/><circle cx="1640.9" cy="798.5" r="3.2" fill="#3D6AB3"/>
<rect x="1339.8" y="813.2" width="325.4" height="144" fill="#DAE6F4"/>
<path d="M1339.8 813.2H1665.2" stroke="#0d0d0d" stroke-width="2.2" fill="none"/>
<rect x="1339.8" y="744.4" width="325.4" height="212.8" fill="none" stroke="#0d0d0d" stroke-width="2.2"/>
<text x="1496.4" y="723.4" font-size="21" text-anchor="middle">X Annealing</text>
<text x="1498.3" y="786.6" font-size="22.9" text-anchor="middle">Electroplating Pt layer</text>
<text x="1502.4" y="894.4" font-size="22.9" text-anchor="middle">Alloy substrate</text>
<circle cx="1715.2" cy="721" r="8" fill="#EBA67D"/><circle cx="1803.8" cy="707.9" r="8" fill="#EBA67D"/><circle cx="1774.1" cy="734.5" r="8" fill="#EBA67D"/><circle cx="1735.2" cy="776.6" r="8" fill="#EBA67D"/><circle cx="1818.6" cy="769.3" r="8" fill="#EBA67D"/><circle cx="1707.2" cy="871.4" r="8" fill="#EBA67D"/><circle cx="1767.9" cy="860" r="8" fill="#EBA67D"/><circle cx="1827.2" cy="871.7" r="8" fill="#EBA67D"/><circle cx="1781.7" cy="920.7" r="8" fill="#EBA67D"/><circle cx="1724.5" cy="940.3" r="8" fill="#EBA67D"/><circle cx="1818.6" cy="956.6" r="8" fill="#EBA67D"/>
<text x="1741" y="763.8" font-size="17" text-anchor="start">AlCl<tspan font-size="12" dy="4">3</tspan></text>
<path d="M1672 823.8H1845.2V808.6L1875.5 838.8L1845.2 869V853.8H1672Z" fill="url(#ga)"/>
<text x="1764.8" y="846" font-size="19.2" text-anchor="middle">Vapor aluminizing</text>
<rect x="1883.5" y="689" width="326" height="124.2" fill="#F2B920"/>
<path d="M1897.8 813.8C1904.2 807.5 1908.5 788.7 1905.5 780.3C1899.1 786.5 1894.8 805.3 1897.8 813.8Z" fill="#3D6AB3"/><path d="M1916.6 778.6C1913.5 787.1 1917.6 806.2 1924 812.7C1927 804.2 1922.9 785.1 1916.6 778.6Z" fill="#3D6AB3"/><path d="M1941.7 799.5C1948.8 805.9 1969.4 810.1 1978.4 807.1C1971.3 800.7 1950.8 796.5 1941.7 799.5Z" fill="#3D6AB3"/><path d="M1993 805.4C2002 808.5 2022.6 804.4 2029.7 798C2020.7 795 2000.2 799.1 1993 805.4Z" fill="#3D6AB3"/><path d="M2046.4 801.2C2054 806.8 2074.5 808.9 2083.1 805C2075.5 799.4 2055 797.2 2046.4 801.2Z" fill="#3D6AB3"/><path d="M2088.3 792.8C2092.9 800.8 2110.5 810.4 2119.7 810C2115.1 802 2097.5 792.4 2088.3 792.8Z" fill="#3D6AB3"/><path d="M2125 807.9C2133.8 810.5 2153.1 805.3 2159.5 798.7C2150.7 796.1 2131.3 801.2 2125 807.9Z" fill="#3D6AB3"/><path d="M2171 810.6C2177.8 804.6 2183.5 785.9 2181.1 777.1C2174.3 783.1 2168.6 801.9 2171 810.6Z" fill="#3D6AB3"/><path d="M2194.1 777.1C2191 785.7 2195.1 805.1 2201.4 811.7C2204.5 803.1 2200.4 783.7 2194.1 777.1Z" fill="#3D6AB3"/><circle cx="1934" cy="794.3" r="3.2" fill="#3D6AB3"/><circle cx="1980.5" cy="797" r="3.2" fill="#3D6AB3"/><circle cx="2036.2" cy="795.3" r="3.2" fill="#3D6AB3"/><circle cx="2076.8" cy="797.6" r="3.2" fill="#3D6AB3"/><circle cx="2122" cy="799.1" r="3.2" fill="#3D6AB3"/><circle cx="2156.4" cy="808.5" r="3.2" fill="#3D6AB3"/><circle cx="2184.6" cy="798.5" r="3.2" fill="#3D6AB3"/>
<circle cx="1898" cy="769.4" r="3.2" fill="#3D6AB3"/><circle cx="1929" cy="772.1" r="3.2" fill="#3D6AB3"/><circle cx="1944.7" cy="769" r="3.2" fill="#3D6AB3"/><circle cx="1960.8" cy="773.2" r="3.2" fill="#3D6AB3"/><circle cx="1980.7" cy="771.7" r="3.2" fill="#3D6AB3"/><circle cx="1968.2" cy="784.3" r="3.2" fill="#3D6AB3"/><circle cx="1947.9" cy="789.5" r="3.2" fill="#3D6AB3"/><circle cx="1934.3" cy="794.1" r="3.2" fill="#3D6AB3"/><circle cx="1996.9" cy="778.4" r="3.2" fill="#3D6AB3"/><circle cx="2009.6" cy="788.2" r="3.2" fill="#3D6AB3"/><circle cx="1980.7" cy="796.8" r="3.2" fill="#3D6AB3"/><circle cx="2028.5" cy="778.4" r="3.2" fill="#3D6AB3"/><circle cx="2036.2" cy="795.2" r="3.2" fill="#3D6AB3"/><circle cx="2048.2" cy="782.6" r="3.2" fill="#3D6AB3"/><circle cx="2064.1" cy="772.1" r="3.2" fill="#3D6AB3"/><circle cx="2075.6" cy="784.1" r="3.2" fill="#3D6AB3"/><circle cx="2082.7" cy="770.5" r="3.2" fill="#3D6AB3"/><circle cx="2077.1" cy="797.3" r="3.2" fill="#3D6AB3"/><circle cx="2099" cy="775.3" r="3.2" fill="#3D6AB3"/><circle cx="2110.1" cy="787.8" r="3.2" fill="#3D6AB3"/><circle cx="2122.5" cy="775.3" r="3.2" fill="#3D6AB3"/><circle cx="2133.6" cy="785.3" r="3.2" fill="#3D6AB3"/><circle cx="2122.3" cy="799.3" r="3.2" fill="#3D6AB3"/><circle cx="2148.9" cy="781.3" r="3.2" fill="#3D6AB3"/><circle cx="2159.1" cy="769.6" r="3.2" fill="#3D6AB3"/><circle cx="2160.4" cy="786.8" r="3.2" fill="#3D6AB3"/><circle cx="2156.6" cy="807.7" r="3.2" fill="#3D6AB3"/><circle cx="2182.2" cy="772.1" r="3.2" fill="#3D6AB3"/><circle cx="2193.7" cy="770.5" r="3.2" fill="#3D6AB3"/><circle cx="2184.5" cy="798.3" r="3.2" fill="#3D6AB3"/>
<rect x="1883.5" y="813.2" width="326" height="144" fill="#DAE6F4"/>
<path d="M1883.5 813.2H2209.5" stroke="#0d0d0d" stroke-width="2.2" fill="none"/>
<rect x="1883.5" y="689" width="326" height="268.2" fill="none" stroke="#0d0d0d" stroke-width="2.2"/>
<text x="2045.7" y="759.4" font-size="22.9" text-anchor="middle"><tspan font-style="italic">β</tspan>-(Ni,Pt)Al</text>
<text x="2046.2" y="894.8" font-size="22.9" text-anchor="middle">Alloy substrate</text>
</svg>
<div class="cap" style="top:1000.34px"><span class="hei" style="margin-left:6px">图</span><b style="margin-left:7px">12</b><span class="c9" style="margin-left:8px">涂层修复机理图</span></div>
<div class="cap" style="top:1051.34px"><b>Fig.12</b> Coating removal, repairing mechanism diagram</div>
<div class="sec" style="left:230px;top:2485.72px"><b>3</b><span style="display:inline-block;width:25px"></span><span style="font-weight:500;font-size:48.5px">结论</span></div>
<div class="refh" style="left:1284px;top:1359.34px">参考文献</div>
<div id="L1" class="b j" style="left:230.00px;top:1136.12px;width:964.00px">此同时<span class="h">，</span>裂纹尖端效应为腐蚀现象的扩展创造条件<span class="h">，</span></div>
<div id="L2" class="b j" style="left:230.00px;top:1202.44px;width:964.00px">这使得涂层呈现出极为疏松的状态<span class="e">(VII)</span><span class="p">。</span>鉴于涂层</div>
<div id="L3" class="b j" style="left:230.00px;top:1268.76px;width:964.00px">内部<span class="g"></span><span class="e">Al</span><span class="g"></span>含量较低<span class="h">，</span>腐蚀反应速度不断下降<span class="h">，</span>使得腐</div>
<div id="L4" class="b j" style="left:230.00px;top:1335.08px;width:964.00px">蚀层深度难以完全剥离<span class="g"></span><span class="e">IDZ</span><span class="g"></span>层<span class="h">，</span>在二次喷玻璃丸后<span class="h">，</span></div>
<div id="L5" class="b j" style="left:230.00px;top:1401.40px;width:964.00px">不可避免地残留下一定的<span class="g"></span><span class="e">IDZ</span><span class="g"></span>区域和相对完整的二</div>
<div id="L6" class="b j" style="left:230.00px;top:1467.72px;width:964.00px">次反应区<span class="e">(SRZ</span><span class="h">，</span><span class="e">VIII)</span><span class="p">。</span>由于表面粗糙度较大<span class="h">，</span>经过</div>
<div id="L7" class="b j" style="left:230.00px;top:1534.04px;width:964.00px">电镀<span class="g"></span><span class="e">Pt</span><span class="g"></span>后<span class="h">，</span>镀层和基体之间产生“铆合”作用<span class="h">，</span>物理</div>
<div id="L8" class="b j" style="left:230.00px;top:1600.36px;width:964.00px">结合力较好<span class="e">(IX)</span><span class="p">。</span>在经过真空退火后<span class="h">，</span>扩散层中保</div>
<div id="L9" class="b j" style="left:230.00px;top:1666.68px;width:964.00px">留了明显的<span class="g"></span><span class="e">TCP</span><span class="g"></span>相<span class="h">，</span>样品表面形成富<span class="g"></span><span class="e">Pt</span><span class="g"></span>区<span class="e">(X)</span><span class="p">。</span>经过</div>
<div id="L10" class="b j" style="left:230.00px;top:1733.00px;width:964.00px">气相渗铝处理<span class="h">，</span>修复后的<span class="e">(Ni, Pt)Al</span><span class="g"></span>涂层与原始涂层</div>
<div id="L11" class="b j" style="left:230.00px;top:1799.32px;width:964.00px">相似<span class="h">，</span>由两层结构组成<span class="h">，</span>即由<span class="e"><i>β</i>-(Ni, Pt)Al</span><span class="g"></span>相组成的外</div>
<div id="L12" class="b j" style="left:230.00px;top:1865.64px;width:964.00px">层<span class="e">(OZ)</span>和包含拓扑密堆相<span class="e">(TCP)</span>颗粒和<span class="e"><i>β</i>-(Ni, Pt)Al</span></div>
<div id="L13" class="b j" style="left:230.00px;top:1931.96px;width:964.00px">相的互扩散区<span class="e">(IDZ)</span><span class="p">。</span>不同的是<span class="h">，</span>修复后的<span class="e">(Ni, Pt)Al</span></div>
<div id="L14" class="b j" style="left:230.00px;top:1998.28px;width:964.00px">部件中<span class="g"></span><span class="e">IDZ</span><span class="g"></span>及基体中保留了服役过程中析出的<span class="g"></span><span class="e">TCP</span></div>
<div id="L15" class="b j" style="left:230.00px;top:2064.60px;width:964.00px">相形貌<span class="p">。</span>以化学去除为基础的涂层去除修复工艺尽</div>
<div id="L16" class="b j" style="left:230.00px;top:2130.92px;width:964.00px">管大面积地剥离了主要受氧化<span class="h">、</span><span class="e">Al</span><span class="g"></span>消耗的涂层部</div>
<div id="L17" class="b j" style="left:230.00px;top:2197.24px;width:964.00px">分<span class="h">，</span>但无法根除残留的<span class="g"></span><span class="e">TCP</span>“种子”<span class="h">，</span>未来应进一步研</div>
<div id="L18" class="b j" style="left:230.00px;top:2263.56px;width:964.00px">究这些残余的<span class="g"></span><span class="e">TCP</span><span class="g"></span>相对再次服役时的影响<span class="h">，</span>并改进</div>
<div id="L19" class="b j" style="left:230.00px;top:2329.88px;width:964.00px">工艺进一步研究涂层的退除深度对修复涂层再次服</div>
<div id="L20" class="b n" style="left:230.00px;top:2396.20px;width:964.00px">役时的氧化<span class="h">、</span>腐蚀性能的影响<span class="h pe">。</span></div>
<div id="L21" class="b j" style="left:317.50px;top:2578.92px;width:876.50px"><span class="e">(1)</span><span class="g2"></span>燃气轮机服役环境中引入的拉应力促使叶</div>
<div id="L22" class="b j" style="left:230.00px;top:2645.24px;width:964.00px">身的部分区域出现贯穿涂层的微观裂纹<span class="h">，</span>并且裂纹</div>
<div id="L23" class="b j" style="left:230.00px;top:2711.56px;width:964.00px">处出现了明显的内氧化<span class="h">，</span>表面<span class="g"></span><span class="e">Al</span><span class="g"></span>含量明显降低<span class="p">。</span>在</div>
<div id="L24" class="b j" style="left:230.00px;top:2777.88px;width:964.00px">严重影响涂层的完整性的同时<span class="h">，</span>具有较大应用隐患<span class="h pe">。</span></div>
<div id="L25" class="b j" style="left:230.00px;top:2844.20px;width:964.00px">叶片各关键部位的涂层出现不同程度的氧化<span class="h">，</span>随着</div>
<div id="L26" class="b n" style="left:230.00px;top:2910.52px;width:964.00px"><span class="e">Al</span><span class="g"></span>的消耗<span class="h">，</span>形成少量白亮条带状的<span class="e"><i>γ</i>′</span><span class="g"></span>相<span class="h pe">。</span></div>
<div id="L27" class="b j" style="left:317.50px;top:2976.84px;width:876.50px"><span class="e">(2)</span><span class="g2"></span>该一级动叶基体各部位出现不同的程度的筏</div>
<div id="L28" class="b j" style="left:230.00px;top:3043.16px;width:964.00px">化现象<span class="p">。</span>由于叶盆处服役条件比叶背恶劣<span class="h">，</span>筏化程度</div>
<div id="L29" class="b j" style="left:230.00px;top:3109.48px;width:964.00px">相对严重<span class="p">。</span>榫头及中间叶根处的筏化程度较弱<span class="p">。</span>相</div>
<div id="L30" class="b n" style="left:230.00px;top:3175.80px;width:964.00px;letter-spacing:0.570px">对负载<span class="h">、</span>应力条件<span class="h">，</span>温度对筏化的影响程度更大<span class="h pe">。</span></div>
<div id="L31" class="b j" style="left:317.50px;top:3242.12px;width:876.50px"><span class="e">(3)</span><span class="g2"></span>通过涂层去除和重制的修复工艺<span class="h">，</span>去除了表</div>
<div id="L32" class="b j" style="left:1285.20px;top:1136.12px;width:965.60px">面微裂纹<span class="h">，</span>获得厚度均匀<span class="h">、</span>表面富<span class="g"></span><span class="e">Al</span><span class="g"></span>的单相<span class="g"></span><span class="e">Pt</span><span class="g"></span>改性</div>
<div id="L33" class="b j" style="left:1285.20px;top:1202.44px;width:965.60px">铝化物涂层<span class="p">。</span>整体上<span class="h">，</span>该工艺可作为服役后一级动</div>
<div id="L34" class="b n" style="left:1285.20px;top:1268.76px;width:965.60px">叶再修复工艺的参考<span class="h pe">。</span></div>
<div class="r n" style="left:1284.00px;top:1438.65px">[1]</div>
<div id="L35" class="r j" style="left:1347.00px;top:1438.65px;width:903.50px">Xia W S, Zhao X B, Yue L, et al. A review of composition evolu-</div>
<div id="L36" class="r j" style="left:1347.00px;top:1495.37px;width:903.50px">tion in Ni-based single crystal superalloys [J]. J. Mater. Sci. Tech-</div>
<div id="L37" class="r n" style="left:1347.00px;top:1552.09px;width:903.50px">nol., 2020, 44: 76</div>
<div class="r n" style="left:1284.00px;top:1608.81px">[2]</div>
<div id="L38" class="r j" style="left:1347.00px;top:1608.81px;width:903.50px">Gudivada G, Pandey A K. Recent developments in nickel-based su-</div>
<div id="L39" class="r j" style="left:1347.00px;top:1665.53px;width:903.50px">peralloys for gas turbine applications: Review [J]. J. Alloy.</div>
<div id="L40" class="r n" style="left:1347.00px;top:1722.25px;width:903.50px">Compd., 2023, 963: 171128</div>
<div class="r n" style="left:1284.00px;top:1778.97px">[3]</div>
<div id="L41" class="r j" style="left:1347.00px;top:1778.97px;width:903.50px">Zhang Z K, Yue Z F. TCP phases growth and crack initiation and</div>
<div id="L42" class="r j" style="left:1347.00px;top:1835.69px;width:903.50px">propagation in nickel-based single crystal superalloys containing</div>
<div id="L43" class="r n" style="left:1347.00px;top:1892.41px;width:903.50px">Re [J]. J. Alloy. Compd., 2018, 746: 84</div>
<div class="r n" style="left:1284.00px;top:1949.13px">[4]</div>
<div id="L44" class="r j" style="left:1347.00px;top:1949.13px;width:903.50px">Wang J L, Chen M H, Yang L L, et al. Nanocrystalline coatings on</div>
<div id="L45" class="r j" style="left:1347.00px;top:2005.85px;width:903.50px">superalloys against high temperature oxidation: A review [J]. Cor-</div>
<div id="L46" class="r n" style="left:1347.00px;top:2062.57px;width:903.50px">ros. Commun., 2021, 1: 58</div>
<div class="r n" style="left:1284.00px;top:2119.29px">[5]</div>
<div id="L47" class="r j" style="left:1347.00px;top:2119.29px;width:903.50px">Rajendran R. Gas turbine coatings-an overview [J]. Eng. Fail.</div>
<div id="L48" class="r n" style="left:1347.00px;top:2176.01px;width:903.50px">Anal., 2012, 26: 355</div>
<div class="r n" style="left:1284.00px;top:2232.73px">[6]</div>
<div id="L49" class="r j" style="left:1347.00px;top:2232.73px;width:903.50px">Das D K. Microstructure and high temperature oxidation behavior</div>
<div id="L50" class="r j" style="left:1347.00px;top:2289.45px;width:903.50px">of Pt-modified aluminide bond coats on Ni-base superalloys [J].</div>
<div id="L51" class="r n" style="left:1347.00px;top:2346.17px;width:903.50px">Prog. Mater. Sci., 2013, 58: 151</div>
<div class="r n" style="left:1284.00px;top:2402.89px">[7]</div>
<div id="L52" class="r j" style="left:1347.00px;top:2402.89px;width:903.50px">Sheveyko A N, Kuptsov K A, Fatykhova M N, et al Deposition of</div>
<div id="L53" class="r j" style="left:1347.00px;top:2459.61px;width:903.50px">oxidation-resistant coatings by vacuum-pulse-arc melting of NiAl-</div>
<div id="L54" class="r j" style="left:1347.00px;top:2516.33px;width:903.50px">based granules to protect Ni superalloys [J]. Surf. Coat. Technol.,</div>
<div id="L55" class="r n" style="left:1347.00px;top:2573.05px;width:903.50px">2023, 474: 130097</div>
<div class="r n" style="left:1284.00px;top:2629.77px">[8]</div>
<div id="L56" class="r j" style="left:1347.00px;top:2629.77px;width:903.50px">Xu X W, Shu X Y, Chen Z Q, et al. Oxidation behavior of CVD</div>
<div id="L57" class="r j" style="left:1347.00px;top:2686.49px;width:903.50px">aluminized coatings on DD6 single crystal Ni-based superalloy [J].</div>
<div id="L58" class="r n" style="left:1347.00px;top:2743.21px;width:903.50px">J. Chin. Soc. Corros. Prot., 2025, 45: 148</div>
<div id="L59" class="r rc j" style="left:1347.00px;top:2799.93px;width:903.50px"><span class="e">(</span>许习文<span class="e">,</span><span class="g3"></span>舒小勇<span class="e">,</span><span class="g3"></span>陈智群等<span class="e">. DD6</span><span class="g3"></span>单晶<span class="g3"></span><span class="e">Ni</span><span class="g3"></span>基高温合金表面<span class="g3"></span><span class="e">CVD</span></div>
<div id="L60" class="r rc n" style="left:1347.00px;top:2856.65px;width:903.50px">渗<span class="g3"></span><span class="e">Al</span><span class="g3"></span>涂层的氧化行为<span class="g3"></span><span class="e">[J].</span><span class="g3"></span>中国腐蚀与防护学报<span class="e">, 2025, 45: 148)</span></div>
<div class="r n" style="left:1284.00px;top:2913.37px">[9]</div>
<div id="L61" class="r j" style="left:1347.00px;top:2913.37px;width:903.50px">Tao X P, Tan K J, Wang X G, et al. Cyclic oxidation-induced dele-</div>
<div id="L62" class="r j" style="left:1347.00px;top:2970.09px;width:903.50px">terious effects of Ru on the surface rumpling of a Pt-modified alu-</div>
<div id="L63" class="r n" style="left:1347.00px;top:3026.81px;width:903.50px">minide coating [J]. Surf. Coat. Technol., 2024, 478: 130416</div>
<div class="r n" style="left:1284.00px;top:3083.53px">[10]</div>
<div id="L64" class="r j" style="left:1347.00px;top:3083.53px;width:903.50px;letter-spacing:-0.040px">Yang Y F, Ren S X, Deng C M, et al. Synergistic effect of Pt and Hf</div>
<div id="L65" class="r j" style="left:1347.00px;top:3140.25px;width:903.50px">on the early-stage oxidation behaviour of NiAl coating at 1000 ºC</div>
<div id="L66" class="r n" style="left:1347.00px;top:3196.97px;width:903.50px">[J]. Corros. Commun., 2022, 5: 49</div>
<div class="r n" style="left:1284.00px;top:3253.69px">[11]</div>
<div id="L67" class="r j" style="left:1347.00px;top:3253.69px;width:903.50px">Liu Y K, Yin B, Deng P, et al. The effects of tensile stress on the</div>
</div></body></html>
